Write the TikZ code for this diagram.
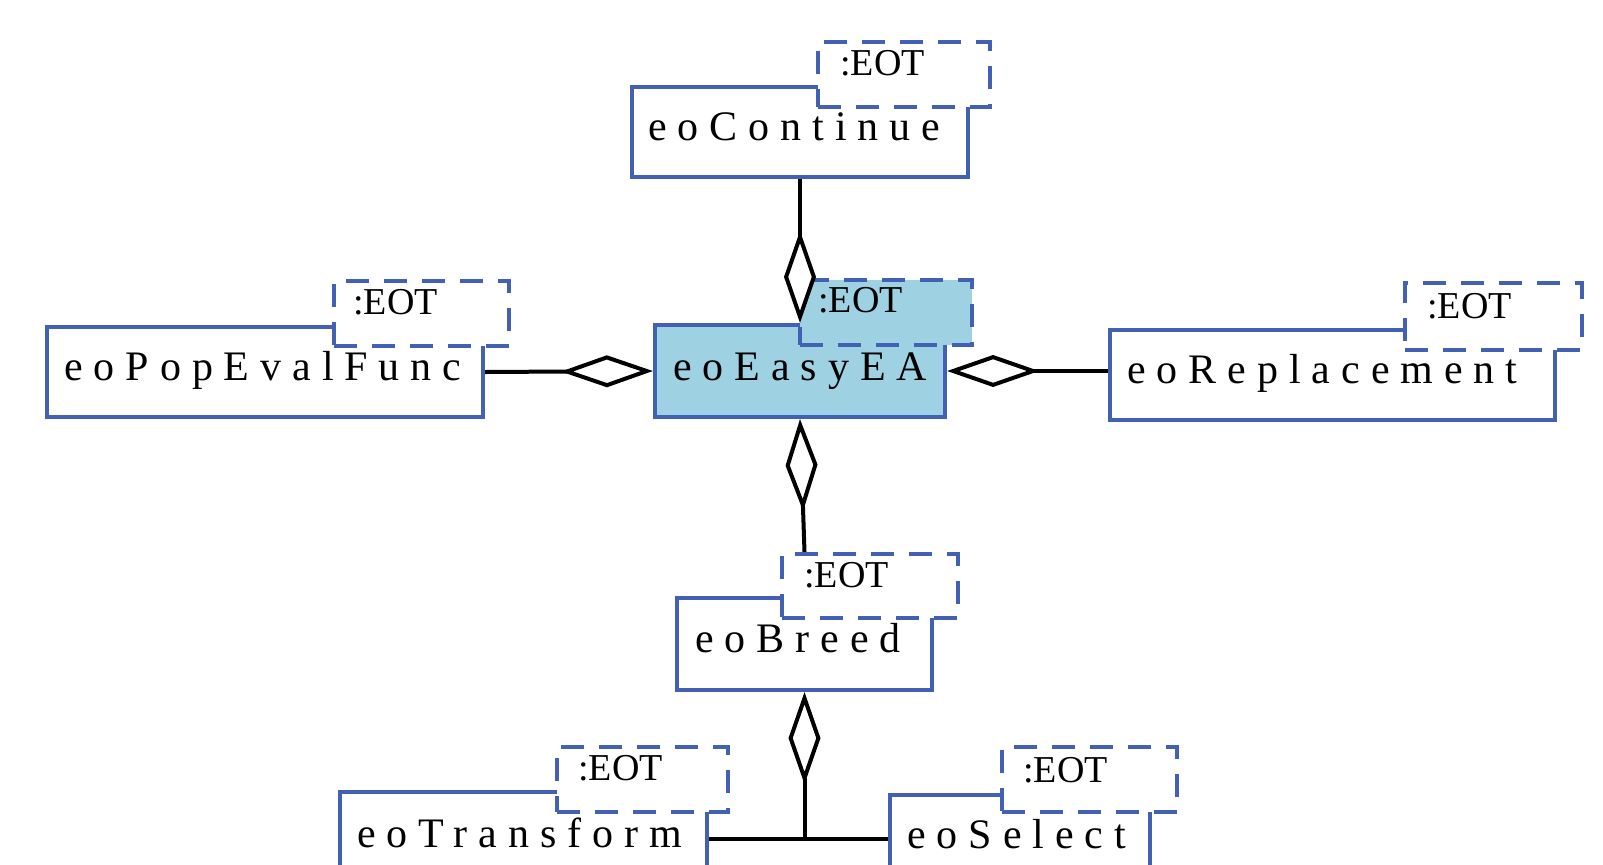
\documentclass[tikz,border=0pt]{standalone}
\usepackage{fontspec}
\setmainfont{Liberation Serif}
\newfontfamily\clsfont{Liberation Serif}[LetterSpace=26]
\newfontfamily\tmplfont{Liberation Serif}
\usetikzlibrary{arrows.meta,fit}
\definecolor{umlblue}{RGB}{66,96,180}
\definecolor{activefill}{RGB}{158,210,227}
\tikzset{
  classbox/.style={draw=umlblue, line width=2.1pt, fill=white, inner sep=0pt},
  tmplbox/.style={draw=umlblue, line width=2.1pt, fill=white,
    dash pattern=on 11.5pt off 7.5pt, inner sep=0pt},
  classname/.style={font=\clsfont\fontsize{21pt}{23pt}\selectfont,
    inner sep=0pt, anchor=base west},
  tmplname/.style={font=\tmplfont\fontsize{19pt}{21pt}\selectfont,
    inner sep=0pt, anchor=base west},
  aggr/.style={line width=2pt, -{Diamond[length=46pt,width=16pt,fill=white]}},
  plainlink/.style={line width=2pt},
}
\begin{document}
\begin{tikzpicture}[x=0.5pt, y=-0.5pt]
\useasboundingbox (0,0) rectangle (1603,864);
\clip (0,0) rectangle (1603,864);

% eoContinue
\node[classbox, fit={(632,87) (968,177)}] (cont) {};
\node[tmplbox, fit={(818,42) (990,107)}] (contT) {};
\node[classname] (contL) at (648,140) {eoContinue};
\node[tmplname] (contTL) at (840,75) {:EOT};

% eoEasyEA (highlighted)
\node[classbox, fill=activefill, fit={(655,325) (945,417)}] (easy) {};
\node[tmplbox, fill=activefill, fit={(800,280) (972,345)}] (easyT) {};
\node[classname] (easyL) at (673,380) {eoEasyEA};
\node[tmplname] (easyTL) at (818,312) {:EOT};

% eoPopEvalFunc
\node[classbox, fit={(47,327) (483,417)}] (pop) {};
\node[tmplbox, fit={(334,281) (509,346)}] (popT) {};
\node[classname] (popL) at (64,380) {eoPopEvalFunc};
\node[tmplname] (popTL) at (353,314) {:EOT};

% eoReplacement
\node[classbox, fit={(1110,330) (1555,420)}] (rep) {};
\node[tmplbox, fit={(1405,283) (1582,350)}] (repT) {};
\node[classname] (repL) at (1127,383) {eoReplacement};
\node[tmplname] (repTL) at (1427,318) {:EOT};

% eoBreed
\node[classbox, fit={(677,598) (932,690)}] (breed) {};
\node[tmplbox, fit={(782,554) (958,618)}] (breedT) {};
\node[classname] (breedL) at (695,652) {eoBreed};
\node[tmplname] (breedTL) at (804,587) {:EOT};

% eoTransform
\node[classbox, fit={(340,792) (707,886)}] (trans) {};
\node[tmplbox, fit={(557,747) (728,812)}] (transT) {};
\node[classname] (transL) at (357,847) {eoTransform};
\node[tmplname] (transTL) at (578,780) {:EOT};

% eoSelect
\node[classbox, fit={(890,795) (1150,883)}] (sel) {};
\node[tmplbox, fit={(1002,747) (1177,812)}] (selT) {};
\node[classname] (selL) at (907,848) {eoSelect};
\node[tmplname] (selTL) at (1023,782) {:EOT};

% aggregations
\coordinate (j) at (breed.south |- trans.east);
\draw[plainlink] (trans.east) -- (j) -- (sel.west);
\draw[aggr] (cont.south) -- (easy.north);
\draw[aggr] (pop.east) -- (easy.west);
\draw[aggr] (rep.west |- easy.east) -- (easy.east);
\draw[aggr] (breed.north |- breedT.north) -- (easy.south);
\draw[aggr] (j) -- (breed.south);
\end{tikzpicture}
\end{document}
